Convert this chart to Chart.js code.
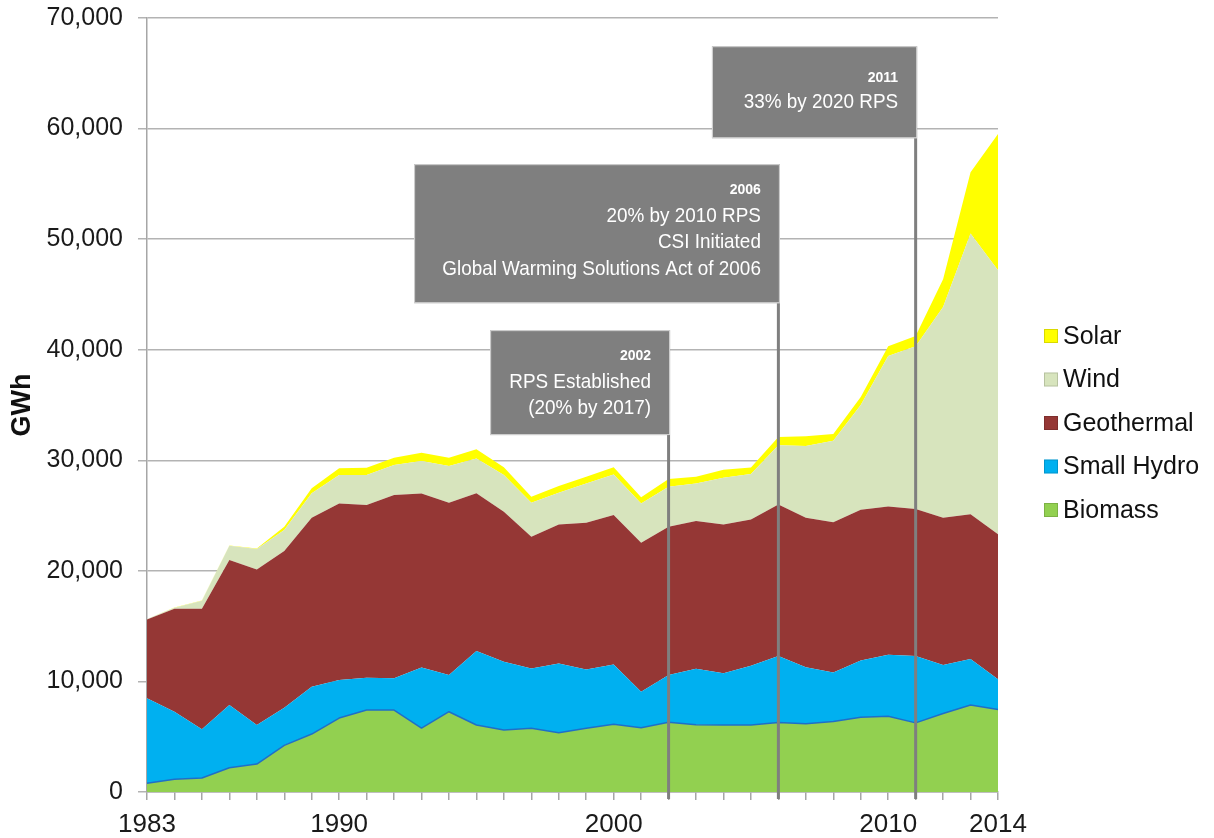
<!DOCTYPE html>
<html>
<head>
<meta charset="utf-8">
<script src="https://cdn.jsdelivr.net/npm/chart.js@4"></script>
<style>
  html, body { margin: 0; padding: 0; background: #ffffff; }
  #wrap { width: 1214px; height: 838px; position: relative; }
</style>
</head>
<body>
<div id="wrap"><canvas id="c"></canvas></div>
<script>
// ---- Data (GWh) ----
const years = ['1983','1984','1985','1986','1987','1988','1989','1990','1991','1992','1993','1994','1995','1996','1997','1998','1999','2000','2001','2002','2003','2004','2005','2006','2007','2008','2009','2010','2011','2012','2013','2014'];
const shownYearLabels = ['1983','1990','2000','2010','2014'];
const biomass    = [800,1150,1270,2200,2530,4220,5240,6690,7410,7410,5780,7260,6060,5610,5760,5360,5760,6120,5820,6300,6080,6050,6050,6290,6170,6370,6770,6850,6250,7100,7860,7460];
const smallHydro = [7670,6110,4400,5670,3530,3400,4280,3440,2930,2870,5490,3320,6690,6170,5420,6270,5330,5420,3250,4280,5060,4680,5360,6010,5120,4440,5130,5570,6050,4390,4160,2740];
const geothermal = [7140,9310,10900,13110,14070,14170,15280,15970,15610,16570,15730,15580,14260,13560,11900,12570,13260,13510,13470,13410,13360,13460,13230,13710,13510,13590,13620,13390,13300,13310,13100,13110];
const wind       = [30,90,730,1290,1840,1900,2210,2560,2710,2720,2930,3320,3160,3320,3080,2860,3560,3670,3560,3610,3400,4240,4110,5360,6490,7370,9480,13630,14720,19070,25400,23870];
const solar      = [0,20,20,20,60,300,450,610,670,660,750,750,820,700,540,610,600,640,550,700,600,720,600,730,890,610,730,880,930,2500,5530,12340];
const yTicks = [0,10000,20000,30000,40000,50000,60000,70000];

// annotations: year of the event line, box extent (left in years, top/bottom in GWh), text
const annYears  = ['2002','2006','2011'];
const annLeft   = [1995.5, 1992.73, 2003.58];
const annTop    = [41770, 56780, 67450];
const annBottom = [32280, 44210, 59130];
const annLines  = [
  ['RPS Established','(20% by 2017)'],
  ['20% by 2010 RPS','CSI Initiated','Global Warming Solutions Act of 2006'],
  ['33% by 2020 RPS']
];

const FONT = "'Liberation Sans', Arial, Helvetica, sans-serif";

const seriesDefs = [
  { label: 'Biomass',     data: biomass,    color: '#92D050', border: '#1F6FC8', bw: 1.5 },
  { label: 'Small Hydro', data: smallHydro, color: '#00B0F0', border: '#00B0F0', bw: 0 },
  { label: 'Geothermal',  data: geothermal, color: '#953735', border: '#953735', bw: 0 },
  { label: 'Wind',        data: wind,       color: '#D7E4BD', border: '#D7E4BD', bw: 0 },
  { label: 'Solar',       data: solar,      color: '#FFFF00', border: '#FFFF00', bw: 0 }
];

const datasets = seriesDefs.map((s, i) => ({
  label: s.label,
  data: s.data,
  backgroundColor: s.color,
  borderColor: s.border,
  borderWidth: s.bw,
  pointRadius: 0,
  tension: 0,
  fill: i === 0 ? 'origin' : '-1'
}));

const annotationPlugin = {
  id: 'events',
  afterDatasetsDraw(chart) {
    const ctx = chart.ctx;
    const xs = chart.scales.x, ys = chart.scales.y;
    const ca = chart.chartArea;
    annYears.forEach((yr, i) => {
      const xLine = xs.getPixelForValue(years.indexOf(yr));
      const xLeft = xs.getPixelForValue(annLeft[i] - 1983);
      const yTop = ys.getPixelForValue(annTop[i]);
      const yBot = ys.getPixelForValue(annBottom[i]);
      const xRight = xLine + 1.5;
      ctx.save();
      // vertical line
      ctx.strokeStyle = '#7f7f7f';
      ctx.lineWidth = 3;
      ctx.beginPath();
      ctx.moveTo(xLine, yBot);
      ctx.lineTo(xLine, ca.bottom + 7);
      ctx.stroke();
      // box
      ctx.fillStyle = '#7f7f7f';
      ctx.fillRect(xLeft, yTop, xRight - xLeft, yBot - yTop);
      ctx.strokeStyle = '#d4d4d4';
      ctx.lineWidth = 1;
      ctx.strokeRect(xLeft + 0.5, yTop + 0.5, xRight - xLeft - 1, yBot - yTop - 1);
      // text
      ctx.fillStyle = '#ffffff';
      ctx.textAlign = 'right';
      ctx.textBaseline = 'middle';
      const tx = xRight - 19;
      const yearOff = i === 2 ? 32 : 26;
      const lineOff = i === 2 ? 56 : 52;
      ctx.font = 'bold 14px ' + FONT;
      ctx.fillText(yr, tx, yTop + yearOff);
      ctx.font = '21px ' + FONT;
      annLines[i].forEach((line, j) => {
        ctx.save();
        ctx.translate(tx, yTop + lineOff + 26.5 * j);
        ctx.scale(0.9, 1);
        ctx.fillText(line, 0, 0);
        ctx.restore();
      });
      ctx.restore();
    });
  }
};

const legendPlugin = {
  id: 'sideLegend',
  afterDraw(chart) {
    const ctx = chart.ctx;
    const items = chart.data.datasets.slice().reverse();
    ctx.save();
    ctx.font = '25px ' + FONT;
    ctx.textBaseline = 'middle';
    ctx.textAlign = 'left';
    items.forEach((ds, i) => {
      const cy = 336 + 43.5 * i;
      ctx.fillStyle = ds.backgroundColor;
      ctx.fillRect(1044, cy - 7, 14, 14);
      ctx.strokeStyle = 'rgba(0,0,0,0.15)';
      ctx.lineWidth = 1;
      ctx.strokeRect(1044.5, cy - 6.5, 13, 13);
      ctx.fillStyle = '#111111';
      ctx.fillText(ds.label, 1063, cy + 1);
    });
    ctx.restore();
  }
};

new Chart(document.getElementById('c'), {
  type: 'line',
  data: { labels: years, datasets },
  plugins: [annotationPlugin, legendPlugin],
  options: {
    responsive: true,
    maintainAspectRatio: false,
    animation: false,
    events: [],
    layout: { padding: { left: 0, top: 18, right: 216, bottom: 0 } },
    plugins: { legend: { display: false }, tooltip: { enabled: false } },
    elements: { line: { borderJoinStyle: 'round' } },
    scales: {
      x: {
        type: 'category',
        offset: false,
        grid: { drawOnChartArea: false, drawTicks: true, tickLength: 8, color: '#a6a6a6', lineWidth: 1.5 },
        border: { color: '#a6a6a6', width: 1.5 },
        ticks: {
          autoSkip: false, maxRotation: 0, minRotation: 0, padding: 9,
          color: '#1a1a1a',
          font: { family: FONT, size: 26 },
          callback: function(v, idx) { const l = years[idx]; return shownYearLabels.includes(l) ? l : ''; }
        },
        afterFit(scale) { scale.height = 46; scale.paddingLeft = 0; scale.paddingRight = 0; }
      },
      y: {
        stacked: true,
        min: 0, max: 70000,
        afterBuildTicks(scale) { scale.ticks = yTicks.map(v => ({ value: v })); },
        grid: { color: '#b3b3b3', lineWidth: 1.5, tickLength: 9 },
        border: { color: '#a6a6a6', width: 1.5 },
        ticks: {
          padding: 15,
          color: '#1a1a1a',
          font: { family: FONT, size: 25 },
          callback: v => v.toLocaleString('en-US')
        },
        title: { display: true, text: 'GWh', color: '#111111', font: { family: FONT, size: 27, weight: 'bold' }, padding: { top: 6, bottom: 0 } },
        afterFit(scale) { scale.width = 147; scale.paddingTop = 0; scale.paddingBottom = 0; }
      }
    }
  }
});
</script>
</body>
</html>
